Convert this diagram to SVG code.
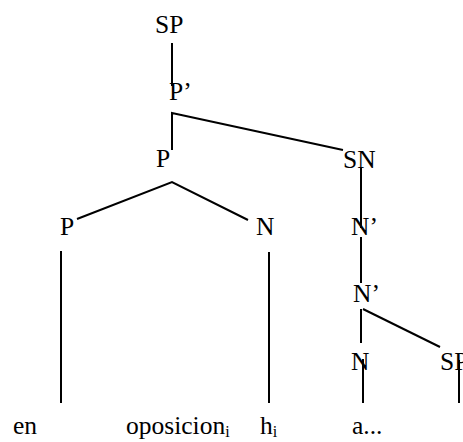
<svg xmlns="http://www.w3.org/2000/svg" width="463" height="442" viewBox="0 0 463 442">
<style>
text{font-family:"Liberation Serif","DejaVu Serif",serif;font-size:25.5px;fill:#000}
.sub{font-size:16px}
.e{stroke:#000;stroke-width:2;fill:none}
</style>
<rect width="463" height="442" fill="#fff"/>
<g id="connectors">
<line class="e" x1="172" y1="43" x2="172" y2="86"/>
<polyline class="e" points="172,150 172,113 343,150"/>
<polyline class="e" points="77,219 172,182 248,220"/>
<line class="e" x1="61" y1="251" x2="61" y2="403"/>
<line class="e" x1="269" y1="252" x2="269" y2="403"/>
<line class="e" x1="361" y1="167" x2="361" y2="228"/>
<line class="e" x1="361" y1="237" x2="361" y2="283"/>
<line class="e" x1="361" y1="309" x2="361" y2="343"/>
<line class="e" x1="363" y1="309" x2="440" y2="347"/>
<line class="e" x1="363" y1="359" x2="363" y2="403"/>
<line class="e" x1="459" y1="360" x2="459" y2="403"/>
</g>
<g id="n-sp"><text x="155" y="33">SP</text></g>
<g id="n-pbar"><text x="169" y="100">P’</text></g>
<g id="n-p1"><text x="156" y="167">P</text></g>
<g id="n-sn"><text x="343" y="168">SN</text></g>
<g id="n-p2"><text x="60" y="235">P</text></g>
<g id="n-n1"><text x="256" y="235">N</text></g>
<g id="n-nbar1"><text x="351" y="235">N’</text></g>
<g id="n-nbar2"><text x="353" y="302">N’</text></g>
<g id="n-n2"><text x="351" y="370">N</text></g>
<g id="n-sp2"><text x="440" y="370">SP</text></g>
<g id="w-en"><text x="13" y="434">en</text></g>
<g id="w-oposicion"><text x="126" y="434">oposicion<tspan class="sub" dy="3">i</tspan></text></g>
<g id="w-h"><text x="260" y="434">h<tspan class="sub" dy="3">i</tspan></text></g>
<g id="w-a"><text x="352" y="434">a...</text></g>
</svg>
